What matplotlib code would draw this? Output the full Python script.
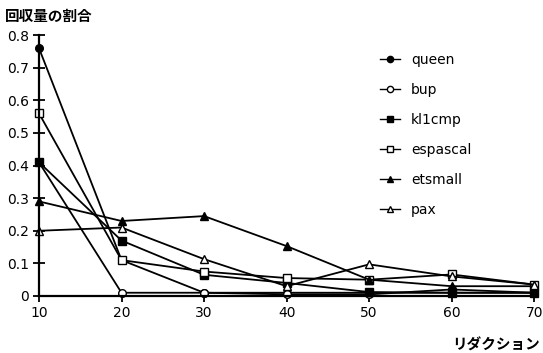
import matplotlib
matplotlib.use("Agg")
import matplotlib.pyplot as plt

plt.rcParams['font.family'] = ['DejaVu Sans', 'Noto Sans CJK JP']

x_vals = [10, 20, 30, 40, 50, 60, 70]
series_names = ["queen", "bup", "kl1cmp", "espascal", "etsmall", "pax"]
queen = [0.76, 0.11, 0.01, 0.01, 0.01, 0.01, 0.01]
bup = [0.41, 0.01, 0.01, 0.005, 0.005, 0.02, 0.01]
kl1cmp = [0.41, 0.17, 0.065, 0.04, 0.012, 0.01, 0.01]
espascal = [0.56, 0.11, 0.075, 0.055, 0.05, 0.066, 0.035]
etsmall = [0.29, 0.23, 0.245, 0.153, 0.05, 0.03, 0.03]
pax = [0.20, 0.21, 0.113, 0.03, 0.097, 0.06, 0.035]
y_ticks = [0, 0.1, 0.2, 0.3, 0.4, 0.5, 0.6, 0.7, 0.8]
y_ticklabels = ["0", "0.1", "0.2", "0.3", "0.4", "0.5", "0.6", "0.7", "0.8"]
title_text = "回収量の割合"
xlabel_text = "リダクション"

styles = [
    dict(marker='o', mfc='black'),
    dict(marker='o', mfc='white'),
    dict(marker='s', mfc='black'),
    dict(marker='s', mfc='white'),
    dict(marker='^', mfc='black'),
    dict(marker='^', mfc='white'),
]
data = [queen, bup, kl1cmp, espascal, etsmall, pax]

fig = plt.figure(figsize=(5.43, 3.53), dpi=100)
ax = fig.add_axes([0.0718, 0.1615, 0.912, 0.739])

for name, vals, st in zip(series_names, data, styles):
    ax.plot(x_vals, vals, color='black', lw=1.3, marker=st['marker'],
            mfc=st['mfc'], mec='black', mew=1.0, ms=5.5, label=name,
            clip_on=False)

ax.set_xlim(10, 70)
ax.set_ylim(0, 0.8)
ax.set_xticks(x_vals)
ax.set_xticklabels([str(v) for v in x_vals], fontsize=10)
ax.set_yticks(y_ticks)
ax.set_yticklabels(y_ticklabels, fontsize=10)
ax.tick_params(axis='both', direction='inout', length=8, width=1.3, pad=3)
for s in ['top', 'right']:
    ax.spines[s].set_visible(False)
for s in ['left', 'bottom']:
    ax.spines[s].set_linewidth(1.6)

fig.text(0.01, 0.955, title_text, family='Noto Sans CJK JP', fontweight='bold',
         fontsize=10.5, ha='left', va='center')
fig.text(0.995, 0.025, xlabel_text, family='Noto Sans CJK JP', fontweight='bold',
         fontsize=10.5, ha='right', va='center')

leg = fig.legend(loc='upper left', bbox_to_anchor=(0.69, 0.865), frameon=False,
                 handlelength=1.4, handletextpad=0.8, labelspacing=1.15,
                 fontsize=10, borderaxespad=0)
for line in leg.get_lines():
    line.set_linewidth(1.0)
    line.set_markersize(4.5)

fig.savefig("out.png", dpi=100)
